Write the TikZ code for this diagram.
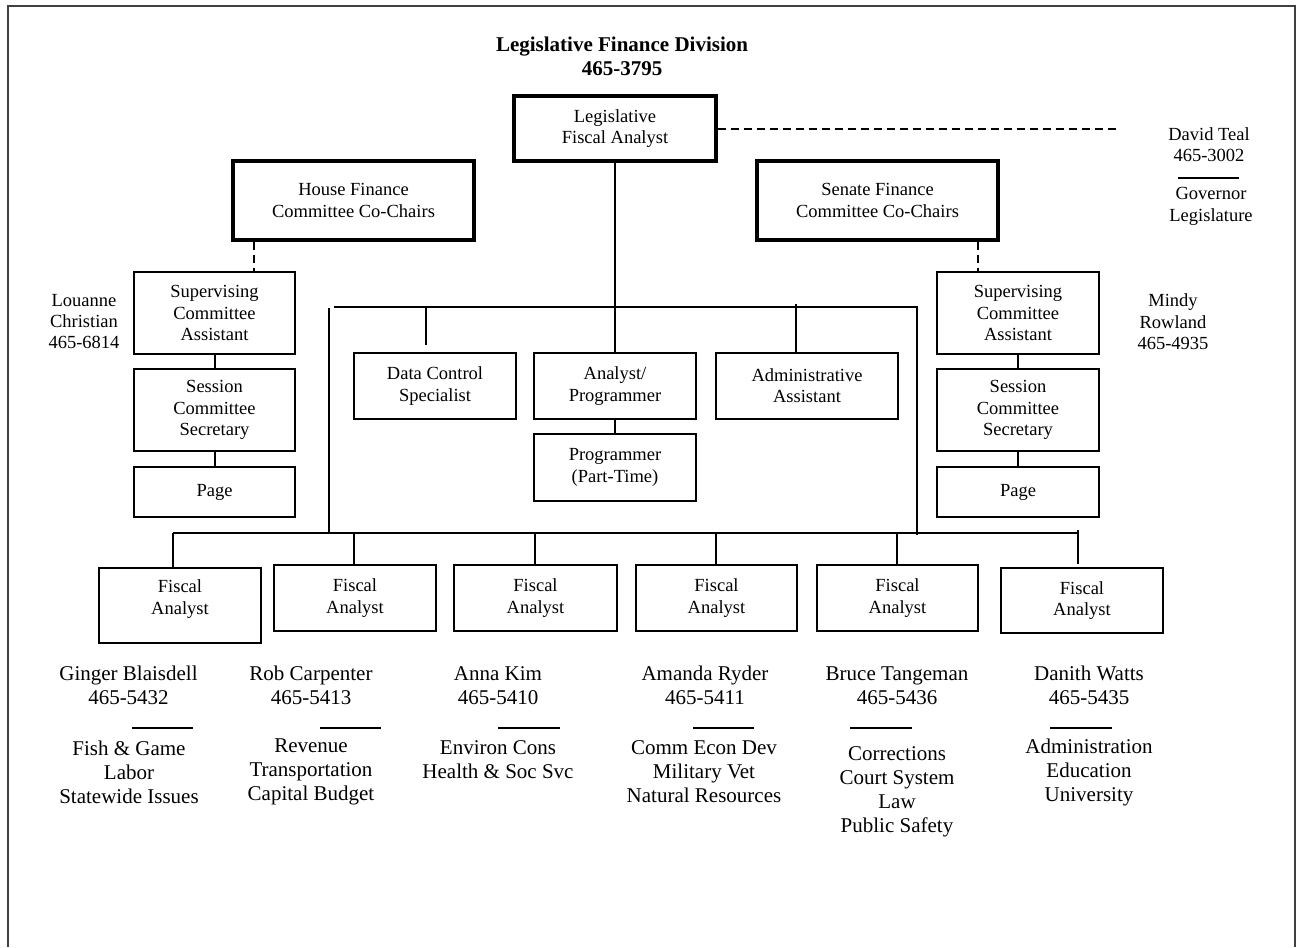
\documentclass[tikz,border=0pt]{standalone}
\usepackage{fontspec}
\setmainfont{Liberation Serif}
\newcommand\fsmall{\fontsize{18.5}{21.3}\selectfont}
\newcommand\flarge{\fontsize{21}{24}\selectfont}
\begin{document}
\begin{tikzpicture}[x=1pt,y=-1pt,
  bx/.style={draw, line width=2pt, inner sep=0pt, align=center, font=\fsmall},
  thk/.style={bx, line width=3.3pt},
  ln/.style={line width=2pt},
  dsh/.style={line width=2pt, dash pattern=on 8pt off 5pt},
  lbl/.style={align=center, font=\flarge, inner sep=0pt},
  slbl/.style={align=center, font=\fsmall, inner sep=0pt},
  frm/.style={line width=1.4pt, draw=black!75}]
\useasboundingbox (0,0) rectangle (1297,947);
% frame
\coordinate (f1) at (8,947); \coordinate (f2) at (8,6);
\coordinate (f3) at (1295,6); \coordinate (f4) at (1295,947);
\draw[frm] (f1) -- (f2) -- (f3) -- (f4);
% title
\node[lbl, font=\flarge\bfseries] (title) at (622,56.5) {Legislative Finance Division\\465-3795};
% top boxes
\node[thk, minimum width=202pt, minimum height=65pt] (lfa) at (615,128.5) {Legislative\\Fiscal Analyst};
\node[thk, minimum width=241pt, minimum height=79pt] (house) at (353.5,200.5) {House Finance\\Committee Co-Chairs};
\node[thk, minimum width=241pt, minimum height=79pt] (senate) at (877.5,200.5) {Senate Finance\\Committee Co-Chairs};
% David Teal
\coordinate (dEnd) at (1118,128.5);
\draw[dsh] (lfa.east) -- (dEnd);
\node[slbl] (dteal) at (1209,145) {David Teal\\465-3002};
\coordinate (dl1) at (1178,178); \coordinate (dl2) at (1239,178);
\draw[ln] (dl1) -- (dl2);
\node[slbl] (gov) at (1211,206.5) {Governor\\Legislature};
% left column
\node[bx, minimum width=161pt, minimum height=82pt] (lsup) at (214.5,313) {Supervising\\Committee\\Assistant};
\node[bx, minimum width=161pt, minimum height=82pt] (lses) at (214.5,410) {Session\\Committee\\Secretary};
\node[bx, minimum width=161pt, minimum height=50pt] (lpage) at (214.5,492) {Page};
\draw[ln] (lsup.south) -- (lses.north);
\draw[ln] (lses.south) -- (lpage.north);
\coordinate (hd) at (254,0);
\draw[dsh] (hd |- house.south) -- (hd |- lsup.north);
\node[slbl] (louanne) at (84,321.7) {Louanne\\Christian\\465-6814};
% right column
\node[bx, minimum width=162pt, minimum height=82pt] (rsup) at (1018,313) {Supervising\\Committee\\Assistant};
\node[bx, minimum width=162pt, minimum height=82pt] (rses) at (1018,410) {Session\\Committee\\Secretary};
\node[bx, minimum width=162pt, minimum height=50pt] (rpage) at (1018,492) {Page};
\draw[ln] (rsup.south) -- (rses.north);
\draw[ln] (rses.south) -- (rpage.north);
\coordinate (sd) at (978,0);
\draw[dsh] (sd |- senate.south) -- (sd |- rsup.north);
\node[slbl] (mindy) at (1173,321.7) {Mindy\\Rowland\\465-4935};
% centre staff
\node[bx, minimum width=162pt, minimum height=66pt] (dc) at (435,386) {Data Control\\Specialist};
\node[bx, minimum width=162pt, minimum height=66pt] (ap) at (615,386) {Analyst/\\Programmer};
\node[bx, minimum width=182pt, minimum height=66pt] (aa) at (807,386) {Administrative\\Assistant};
\node[bx, minimum width=162pt, minimum height=67pt] (pp) at (615,467.5) {Programmer\\(Part-Time)};
\draw[ln] (lfa.south) -- (ap.north);
\draw[ln] (ap.south) -- (pp.north);
\coordinate (hL) at (334,307); \coordinate (hR) at (917,307); \coordinate (hRb) at (917,535);
\draw[ln] (hL) -- (hR) -- (hRb);
\coordinate (vL) at (329,308); \coordinate (vLb) at (329,533);
\draw[ln] (vL) -- (vLb);
\coordinate (dcs1) at (426,307); \coordinate (dcs2) at (426,345);
\draw[ln] (dcs1) -- (dcs2);
\coordinate (aas) at (796,304);
\draw[ln] (aas) -- (aas |- aa.north);
% fiscal analysts
\coordinate (bL) at (173,533); \coordinate (bR) at (1078,533);
\draw[ln] (bL) -- (bR);
\node[bx, minimum width=162pt, minimum height=75pt] (fa1) at (180,605.5) {};
\node[slbl] (fa1t) at (180,599) {Fiscal\\Analyst};
\node[bx, minimum width=162pt, minimum height=66pt] (fa2) at (355,598) {Fiscal\\Analyst};
\node[bx, minimum width=163pt, minimum height=66pt] (fa3) at (535.5,598) {Fiscal\\Analyst};
\node[bx, minimum width=161pt, minimum height=66pt] (fa4) at (716.5,598) {Fiscal\\Analyst};
\node[bx, minimum width=161pt, minimum height=66pt] (fa5) at (897.5,598) {Fiscal\\Analyst};
\node[bx, minimum width=162pt, minimum height=65pt] (fa6) at (1082,600.5) {Fiscal\\Analyst};
\draw[ln] (bL) -- (bL |- fa1.north);
\coordinate (b2) at (354,533); \draw[ln] (b2) -- (b2 |- fa2.north);
\coordinate (b3) at (535,533); \draw[ln] (b3) -- (b3 |- fa3.north);
\coordinate (b4) at (716,533); \draw[ln] (b4) -- (b4 |- fa4.north);
\coordinate (b5) at (897,533); \draw[ln] (b5) -- (b5 |- fa5.north);
\coordinate (b6) at (1078,530); \coordinate (b6e) at (1078,564); \draw[ln] (b6) -- (b6e);
% people
\node[lbl] (n1) at (128.5,685.5) {Ginger Blaisdell\\465-5432};
\node[lbl] (n2) at (311,685.5) {Rob Carpenter\\465-5413};
\node[lbl] (n3) at (498,685.5) {Anna Kim\\465-5410};
\node[lbl] (n4) at (705,685.5) {Amanda Ryder\\465-5411};
\node[lbl] (n5) at (897,685.5) {Bruce Tangeman\\465-5436};
\node[lbl] (n6) at (1089,685.5) {Danith Watts\\465-5435};
\coordinate (u1a) at (132,728); \coordinate (u1b) at (193,728); \draw[ln] (u1a) -- (u1b);
\coordinate (u2a) at (320,728); \coordinate (u2b) at (381,728); \draw[ln] (u2a) -- (u2b);
\coordinate (u3a) at (498,728); \coordinate (u3b) at (560,728); \draw[ln] (u3a) -- (u3b);
\coordinate (u4a) at (693,728); \coordinate (u4b) at (754,728); \draw[ln] (u4a) -- (u4b);
\coordinate (u5a) at (850,728); \coordinate (u5b) at (912,728); \draw[ln] (u5a) -- (u5b);
\coordinate (u6a) at (1050,728); \coordinate (u6b) at (1112,728); \draw[ln] (u6a) -- (u6b);
\node[lbl] (a1) at (129,772) {Fish \& Game\\Labor\\Statewide Issues};
\node[lbl] (a2) at (311,772) {Revenue\\Transportation\\Capital Budget};
\node[lbl] (a3) at (498,759.5) {Environ Cons\\Health \& Soc Svc};
\node[lbl] (a4) at (704,772) {Comm Econ Dev\\Military Vet\\Natural Resources};
\node[lbl] (a5) at (897,791.5) {Corrections\\Court System\\Law\\Public Safety};
\node[lbl] (a6) at (1089,772) {Administration\\Education\\University};
\end{tikzpicture}
\end{document}
